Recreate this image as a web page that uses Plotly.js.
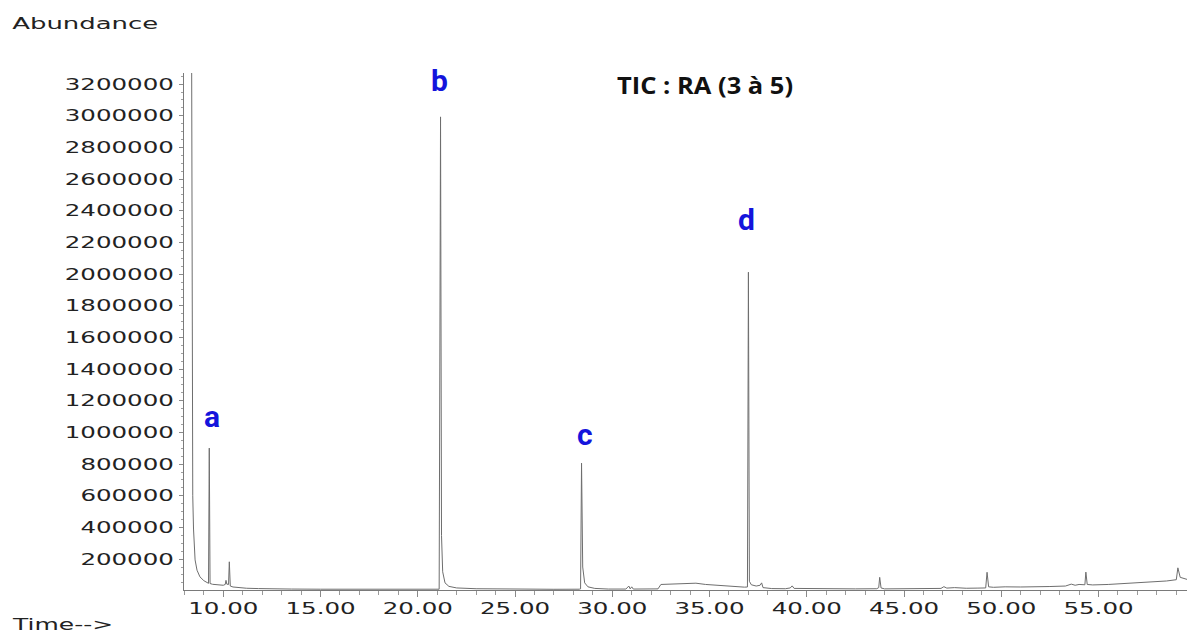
<!DOCTYPE html>
<html>
<head>
<meta charset="utf-8">
<script src="https://cdn.plot.ly/plotly-3.0.1.min.js"></script>
<style>
html,body{margin:0;padding:0;background:#fff;}
#chart{width:1187px;height:633px;}
</style>
</head>
<body>
<div id="chart"></div>
<script>
// ---- data ----
const retentionTime = [
  8.37, 8.40, 8.43, 8.47, 8.55, 8.65, 8.80, 9.00, 9.16, 9.24, 9.28, 9.32, 9.45, 9.70,
  10.00, 10.10, 10.14, 10.18, 10.27, 10.31, 10.36, 10.50, 10.80, 11.20, 11.80, 12.50,
  13.50, 15.00, 16.50, 18.00, 19.50, 20.80, 21.10, 21.17, 21.22, 21.28, 21.40, 21.60,
  22.00, 23.00, 24.00, 25.50, 27.00, 28.30, 28.37, 28.42, 28.48, 28.58, 28.75, 29.10,
  29.80, 30.70, 30.85, 30.92, 31.00, 31.08, 31.80, 32.35, 32.50, 33.00, 33.60, 34.00,
  34.30, 34.80, 35.50, 36.20, 36.80, 36.95, 37.00, 37.05, 37.15, 37.40, 37.60, 37.68,
  37.75, 38.20, 38.90, 39.15, 39.25, 39.35, 40.50, 41.50, 42.50, 43.60, 43.70, 43.75,
  43.82, 44.00, 45.00, 46.00, 46.90, 47.05, 47.20, 47.60, 48.20, 48.80, 49.20, 49.27,
  49.35, 49.60, 50.20, 51.00, 51.80, 52.50, 53.30, 53.60, 53.80, 54.00, 54.30, 54.35,
  54.42, 54.70, 55.50, 56.50, 57.50, 58.50, 59.00, 59.08, 59.20, 59.55
];
const abundance = [
  3500000, 1400000, 600000, 390000, 195000, 130000, 88000, 64000, 50000, 47000, 901000, 46000, 41000, 37000,
  35000, 40000, 66000, 42000, 40000, 183000, 30000, 24000, 19000, 16000, 14000, 12000,
  11000, 10000, 9000, 9000, 9000, 9500, 10000, 2993000, 350000, 120000, 50000, 28000,
  18000, 13000, 11000, 10000, 9500, 10000, 12000, 806000, 150000, 50000, 25000, 15000,
  11000, 11000, 30000, 12000, 25000, 11000, 11000, 12000, 40000, 41000, 42000, 47000,
  48000, 40000, 33000, 27000, 23000, 24000, 2012000, 60000, 38000, 30000, 35000, 50000,
  20000, 14000, 13000, 18000, 31000, 15000, 13000, 12000, 12000, 13000, 20000, 85000,
  18000, 12000, 12000, 14000, 15000, 26000, 17000, 20000, 16000, 17000, 18000, 117000,
  25000, 22000, 25000, 24000, 28000, 27000, 30000, 42000, 35000, 40000, 38000, 118000,
  40000, 37000, 40000, 46000, 53000, 62000, 70000, 145000, 85000, 72000
];
const peakLabels  = ['a', 'b', 'c', 'd'];
const peakTimes   = [9.28, 21.17, 28.42, 37.00];
const peakHeights = [901000, 2993000, 806000, 2012000];
const chartTitle = 'TIC : RA (3 à 5)';
const yAxisLabel = 'Abundance';
const xAxisLabel = 'Time-->';

// ---- presentation ----
const labelXShift = [3, -1, 3, -2];
const labelYShift = [32, 36, 29, 53];

const trace = {
  type: 'scatter',
  mode: 'lines',
  x: retentionTime,
  y: abundance,
  line: {color: '#6e6e6e', width: 1},
  hoverinfo: 'skip'
};

const annotations = peakLabels.map((lab, i) => ({
  text: lab, x: peakTimes[i], y: peakHeights[i], xref: 'x', yref: 'y',
  showarrow: false, xanchor: 'center', yanchor: 'middle',
  xshift: labelXShift[i], yshift: labelYShift[i],
  font: {family: 'Roboto, "Open Sans", sans-serif', size: 30, color: '#1414dc', weight: 700}
}));
annotations.push({
  text: yAxisLabel, xref: 'paper', yref: 'paper', x: -0.0987, y: 1.0948,
  xanchor: 'center', yanchor: 'middle', showarrow: false,
  font: {family: 'DejaVu Sans', size: 15, color: '#222'}
});
annotations.push({
  text: xAxisLabel, xref: 'paper', yref: 'paper', x: -0.1216, y: -0.0677,
  xanchor: 'center', yanchor: 'middle', showarrow: false,
  font: {family: 'DejaVu Sans', size: 15, color: '#222'}
});

const layout = {
  width: 1187, height: 633,
  margin: {l: 184, r: 0, t: 73, b: 43, pad: 0},
  paper_bgcolor: '#ffffff', plot_bgcolor: '#ffffff',
  showlegend: false,
  title: {
    text: chartTitle, x: 0.594, xanchor: 'center', xref: 'container',
    y: 0.864, yanchor: 'middle', yref: 'container',
    font: {family: '"Open Sans", sans-serif', size: 24, color: '#111', weight: 700}
  },
  xaxis: {
    range: [7.98, 59.55], tick0: 0, dtick: 5, tickformat: '.2f',
    showgrid: false, zeroline: false, showline: true, linecolor: '#7a7a7a', linewidth: 1,
    ticks: 'outside', ticklen: 6, tickcolor: '#8a8a8a', tickwidth: 1,
    minor: {dtick: 1, ticks: 'outside', ticklen: 4, tickcolor: '#9a9a9a', showgrid: false},
    tickfont: {family: 'DejaVu Sans', size: 16, color: '#222'},
    ticklabelstandoff: -2
  },
  yaxis: {
    range: [5000, 3270000], tick0: 0, dtick: 200000, tickformat: 'd',
    showgrid: false, zeroline: false, showline: true, linecolor: '#7a7a7a', linewidth: 1,
    ticks: 'outside', ticklen: 4, tickcolor: '#8a8a8a', tickwidth: 1,
    minor: {dtick: 50000, ticks: 'outside', ticklen: 2, tickcolor: '#a0a0a0', showgrid: false},
    tickfont: {family: 'DejaVu Sans', size: 16, color: '#222'},
    ticklabelstandoff: 2
  },
  annotations: annotations
};

const gd = document.getElementById('chart');
Plotly.newPlot(gd, [trace], layout, {staticPlot: true, displayModeBar: false}).then(() => {
  const stretch = (el, width) => {
    el.setAttribute('textLength', width.toFixed(1));
    el.setAttribute('lengthAdjust', 'spacingAndGlyphs');
  };
  document.querySelectorAll('.xtick text, .ytick text').forEach(el => {
    stretch(el, el.getComputedTextLength() * 1.53);
  });
  const n = peakLabels.length;
  const ab = document.querySelector('g.annotation[data-index="' + n + '"] text');
  if (ab) stretch(ab, 146);
  const tm = document.querySelector('g.annotation[data-index="' + (n + 1) + '"] text');
  if (tm) stretch(tm, 100);
  const tt = document.querySelector('.gtitle');
  if (tt) stretch(tt, 176);
});
</script>
</body>
</html>
